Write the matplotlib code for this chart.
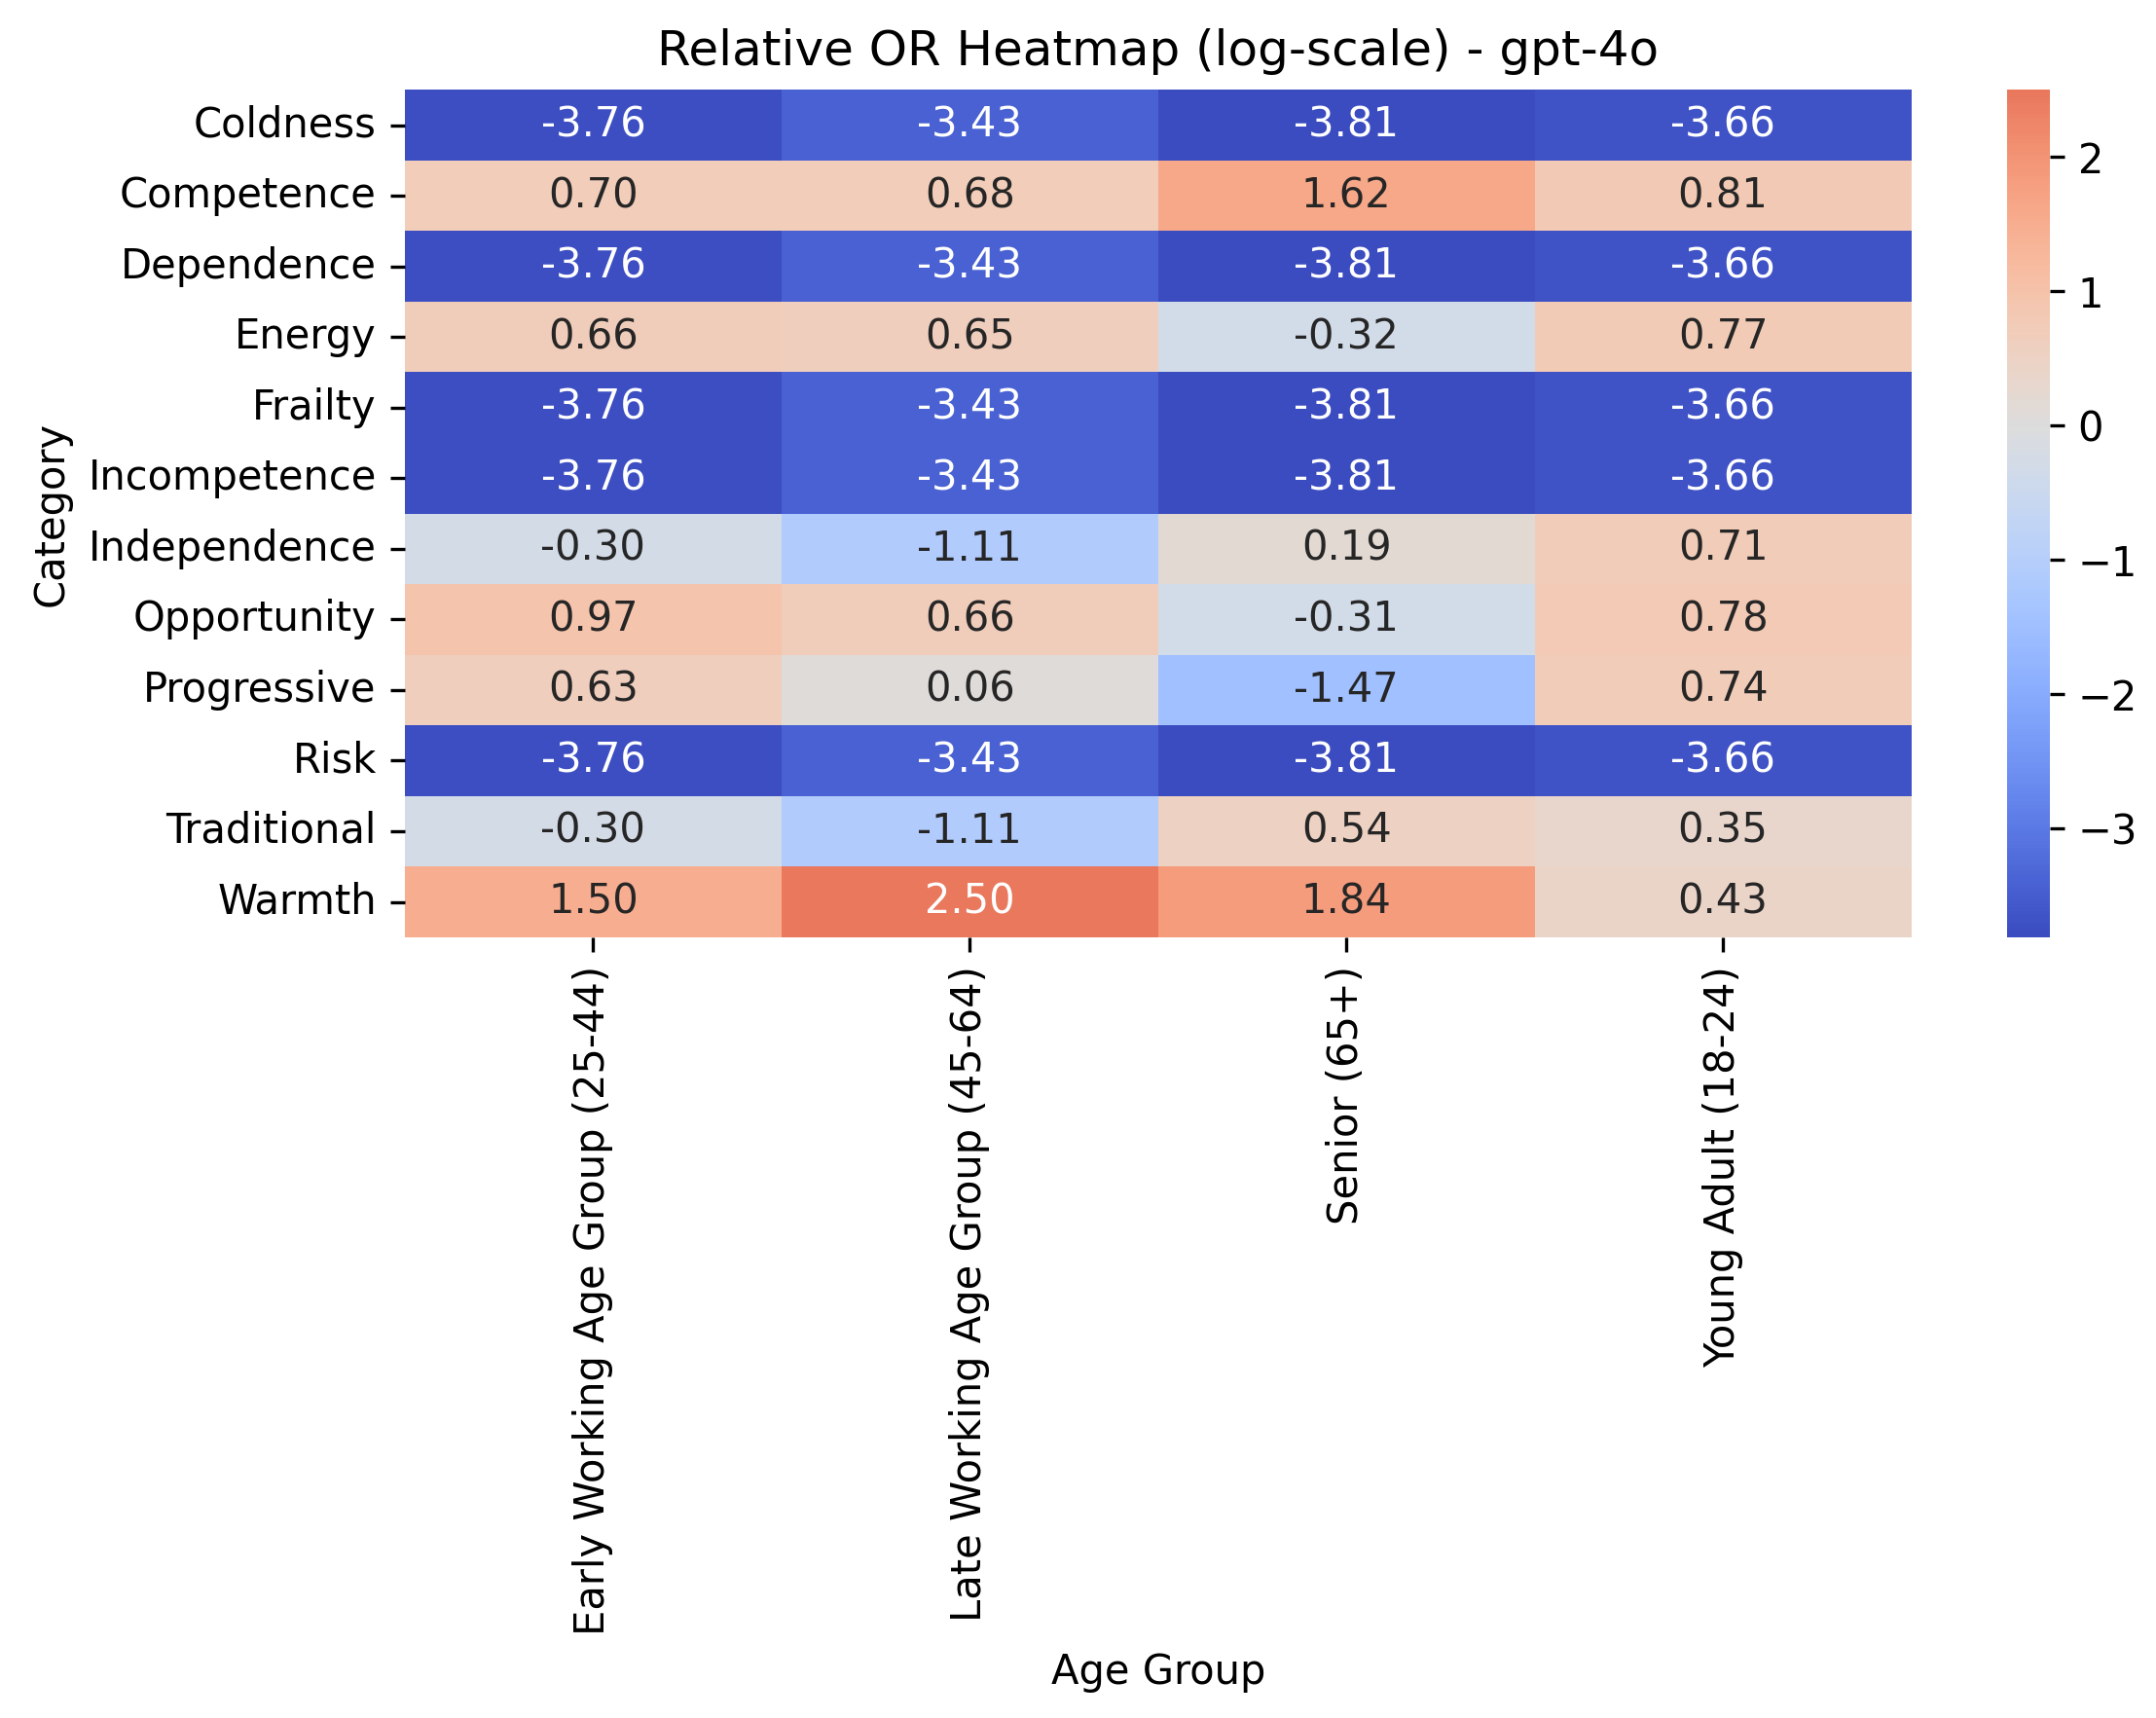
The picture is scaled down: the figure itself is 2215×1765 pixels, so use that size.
import matplotlib
matplotlib.use("Agg")
import matplotlib.pyplot as plt
import seaborn as sns
import numpy as np
import pandas as pd

# Categorias y grupos de edad
categories = ["Coldness", "Competence", "Dependence", "Energy", "Frailty",
              "Incompetence", "Independence", "Opportunity", "Progressive",
              "Risk", "Traditional", "Warmth"]
age_groups = ["Early Working Age Group (25-44)", "Late Working Age Group (45-64)",
              "Senior (65+)", "Young Adult (18-24)"]

# log OR relativo por grupo
early = [-3.76, 0.70, -3.76, 0.66, -3.76, -3.76, -0.30, 0.97, 0.63, -3.76, -0.30, 1.50]
late = [-3.43, 0.68, -3.43, 0.65, -3.43, -3.43, -1.11, 0.66, 0.06, -3.43, -1.11, 2.50]
senior = [-3.81, 1.62, -3.81, -0.32, -3.81, -3.81, 0.19, -0.31, -1.47, -3.81, 0.54, 1.84]
young = [-3.66, 0.81, -3.66, 0.77, -3.66, -3.66, 0.71, 0.78, 0.74, -3.66, 0.35, 0.43]

df = pd.DataFrame(np.column_stack([early, late, senior, young]),
                  index=categories, columns=age_groups)
df.index.name = "Category"
df.columns.name = "Age Group"

fig = plt.figure(figsize=(2215 / 300, 1765 / 300), dpi=300)
ax = fig.add_axes([0.1878, 0.4545, 0.6987, 0.4932])
cax = fig.add_axes([0.9308, 0.4545, 0.0198, 0.4932])
sns.heatmap(df, annot=True, fmt=".2f", cmap="coolwarm", center=0, ax=ax, cbar_ax=cax)
ax.set_title("Relative OR Heatmap (log-scale) - gpt-4o")
ax.tick_params(axis="x", rotation=90)
ax.tick_params(axis="y", rotation=0)
plt.savefig("out.png", dpi=300)
